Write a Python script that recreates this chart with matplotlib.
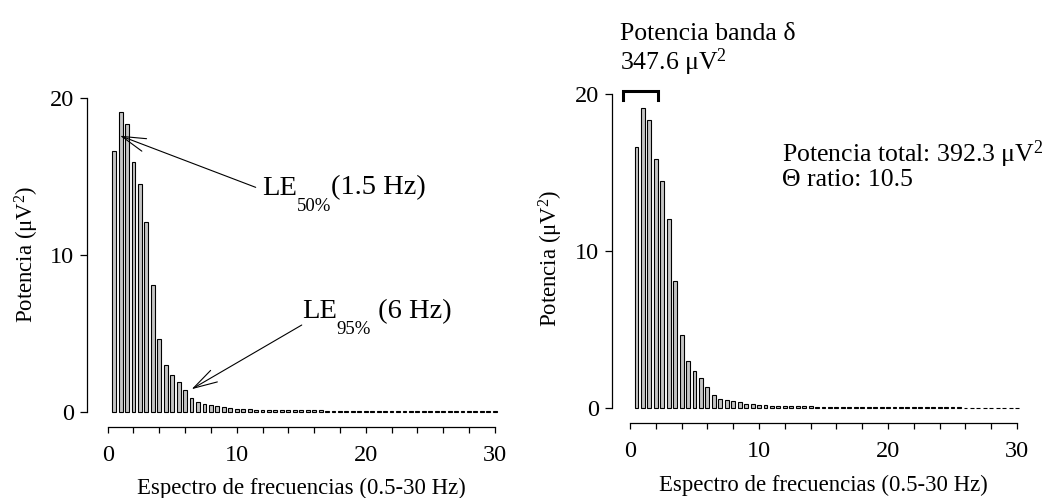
import numpy as np
import matplotlib
matplotlib.use('Agg')
import matplotlib.pyplot as plt
from matplotlib.ticker import MultipleLocator

plt.rcParams['font.family'] = ['Liberation Serif', 'DejaVu Serif']
plt.rcParams['mathtext.fontset'] = 'custom'
plt.rcParams['mathtext.rm'] = 'Liberation Serif'
plt.rcParams['mathtext.it'] = 'Liberation Serif:italic'
plt.rcParams['mathtext.bf'] = 'Liberation Serif:bold'

# frequency bins (Hz), 0.5 Hz resolution
freqs = np.arange(0.5, 30.01, 0.5)
# power per bin (uV^2)
power = [16.65, 19.13, 18.35, 15.90, 14.50, 12.08, 8.08, 4.66, 2.99, 2.35,
         1.90, 1.37, 0.87, 0.62, 0.51, 0.45, 0.37, 0.30, 0.26, 0.21,
         0.18, 0.16, 0.15, 0.14, 0.13, 0.13, 0.12, 0.12, 0.11, 0.11,
         0.10, 0.10, 0.10, 0.09, 0.09, 0.09, 0.08, 0.08, 0.08, 0.08,
         0.07, 0.07, 0.07, 0.07, 0.07, 0.06, 0.06, 0.06, 0.06, 0.06,
         0.06, 0.05, 0.05, 0.05, 0.05, 0.05, 0.05, 0.05, 0.05, 0.05]

le50 = (0.95, 17.6)   # arrow tip
le95 = (6.5, 1.45)
delta_band = (-0.55, 2.2)

TICK_FS = 17.5
LABEL_FS = 16.4
ANNOT_FS = 20.5
SUB_FS = 13.5
TEXT_FS = 18.5

fig = plt.figure(figsize=(10.53, 4.98), dpi=100)
ax1 = fig.add_axes([0.0826, 0.1426, 0.3934, 0.6921])
ax2 = fig.add_axes([0.5809, 0.1500, 0.3911, 0.6922])


def style_axes(ax, xleft):
    ax.bar(freqs, power, width=0.3, color='#c4c4c4', edgecolor='black',
           linewidth=0.8)
    ax.set_xlim(xleft, 30.5)
    ax.set_ylim(-0.955, 21)
    for s in ('top', 'right'):
        ax.spines[s].set_visible(False)
    ax.spines['left'].set_bounds(0, 20)
    ax.spines['bottom'].set_bounds(0, 30)
    ax.spines['left'].set_linewidth(0.9)
    ax.spines['bottom'].set_linewidth(0.9)
    ax.set_xticks([0, 10, 20, 30])
    ax.xaxis.set_minor_locator(MultipleLocator(2))
    ax.set_yticks([0, 10, 20])
    ax.tick_params(axis='x', which='both', direction='out', length=4,
                   width=0.9, pad=9, labelsize=TICK_FS)
    ax.tick_params(axis='y', direction='out', length=5, width=0.9,
                   pad=4, labelsize=TICK_FS)
    ax.set_xlabel('Espectro de frecuencias (0.5-30 Hz)', fontsize=LABEL_FS)
    ax.set_ylabel('Potencia (μV$^2$)', fontsize=LABEL_FS)
    ax.xaxis.set_label_coords((15 - xleft) / (30.5 - xleft), -0.148)
    ax.yaxis.label.set_verticalalignment('center')


def le_label(ax, x, y, sub, rest):
    # "LE" with a low subscript, then the rest on the main baseline
    t1 = ax.text(x, y, 'LE', fontsize=ANNOT_FS, va='baseline', ha='left')
    t2 = ax.annotate(sub, xy=(1, 0), xycoords=t1, xytext=(0, -7.5),
                     textcoords='offset points', fontsize=SUB_FS,
                     va='baseline', ha='left')
    ax.annotate(rest, xy=(1, 0), xycoords=(t2, t1), fontsize=ANNOT_FS,
                va='bottom', ha='left')


style_axes(ax1, -1.605)
style_axes(ax2, -1.419)
ax1.yaxis.set_label_coords(-0.145, 0.5)
ax2.yaxis.set_label_coords(-0.147, 0.48)

arrow = dict(arrowstyle='->,head_length=0.86,head_width=0.24',
             color='black', lw=0.8, mutation_scale=20, shrinkA=0, shrinkB=0)

# left panel annotations
ax1.annotate('', xy=le50, xytext=(11.47, 14.31), arrowprops=arrow)
le_label(ax1, 11.96, 13.85, '50%', '(1.5 Hz)')
ax1.annotate('', xy=le95, xytext=(15.04, 5.54), arrowprops=arrow)
le_label(ax1, 15.04, 6.0, '95%', ' (6 Hz)')

# right panel annotations
x0, x1 = delta_band
ax2.plot([x0, x0, x1, x1], [19.64, 20.23, 20.23, 19.64], color='black',
         lw=2.2, clip_on=False, solid_joinstyle='miter')
ax2.text(-0.78, 21.55, 'Potencia banda δ\n347.6 μV$^2$', fontsize=TEXT_FS,
         va='baseline', ha='left', linespacing=1.05)
ax2.text(11.76, 14.15, 'Potencia total: 392.3 μV$^2$\nΘ ratio: 10.5',
         fontsize=TEXT_FS, va='baseline', ha='left', linespacing=0.95)

fig.savefig('out.png', dpi=100)
